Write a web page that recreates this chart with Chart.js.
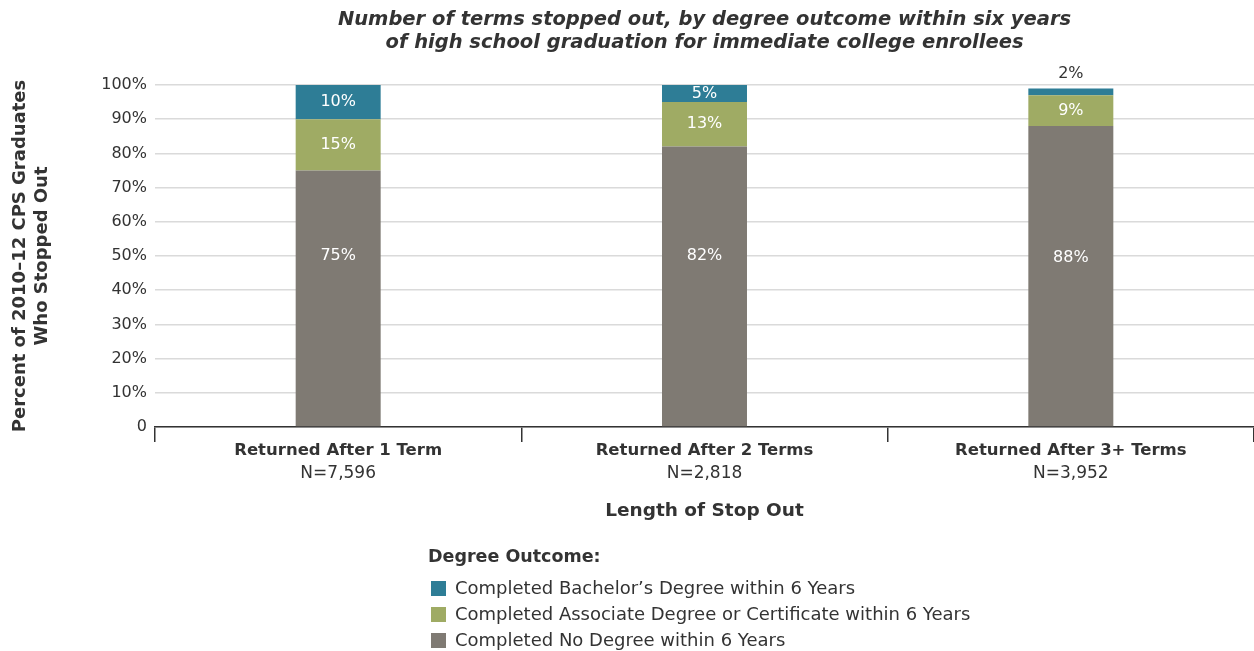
<!DOCTYPE html>
<html>
<head>
<meta charset="utf-8">
<script src="https://cdn.jsdelivr.net/npm/chart.js@4.4.0/dist/chart.umd.min.js"></script>
<style>
  html, body { margin: 0; padding: 0; background: #fff; }
  canvas { display: block; }
</style>
</head>
<body>
<canvas id="c" width="1254" height="651"></canvas>
<script>
// ---- data ----
const categories = ['Returned After 1 Term', 'Returned After 2 Terms', 'Returned After 3+ Terms'];
const sampleSizes = ['N=7,596', 'N=2,818', 'N=3,952'];
const noDegree = [75, 82, 88];
const associateDegree = [15, 13, 9];
const bachelorDegree = [10, 5, 2];
const yTickValues = [0, 10, 20, 30, 40, 50, 60, 70, 80, 90, 100];
const seriesNames = [
  'Completed No Degree within 6 Years',
  'Completed Associate Degree or Certificate within 6 Years',
  'Completed Bachelor\u2019s Degree within 6 Years'
];
const titleLines = [
  'Number of terms stopped out, by degree outcome within six years',
  'of high school graduation for immediate college enrollees'
];
const yTitleLines = ['Percent of 2010\u201312 CPS Graduates', 'Who Stopped Out'];
const xTitle = 'Length of Stop Out';
const legendTitle = 'Degree Outcome:';

// ---- styling ----
const FONT = "'DejaVu Sans', 'Noto Sans', sans-serif";
const TEXT = '#333333';
const COLORS = ['#7f7a73', '#9fab64', '#2e7d96'];

// Draws the titles, category labels, value labels and legend.
const annotations = {
  id: 'annotations',
  afterDraw(chart) {
    const ctx = chart.ctx;
    const area = chart.chartArea;
    const xs = chart.scales.x;
    const ys = chart.scales.y;
    const cx = (area.left + area.right) / 2;
    ctx.save();
    ctx.fillStyle = TEXT;
    ctx.textBaseline = 'middle';
    ctx.textAlign = 'center';

    // chart title
    ctx.font = 'italic bold 19.5px ' + FONT;
    ctx.fillText(titleLines[0], cx, 20);
    ctx.fillText(titleLines[1], cx, 43);

    // category labels with sample sizes
    categories.forEach((c, i) => {
      const x = xs.getPixelForValue(i);
      ctx.font = 'bold 16.5px ' + FONT;
      ctx.fillText(c, x, 451);
      ctx.font = '17px ' + FONT;
      ctx.fillText(sampleSizes[i], x, 474);
    });

    // x axis title
    ctx.font = 'bold 18.5px ' + FONT;
    ctx.fillText(xTitle, cx, 511);

    // y axis title
    const cy = (area.top + area.bottom) / 2;
    [20, 42].forEach((x, i) => {
      ctx.save();
      ctx.translate(x, cy);
      ctx.rotate(-Math.PI / 2);
      ctx.font = 'bold 18px ' + FONT;
      ctx.fillText(yTitleLines[i], 0, 0);
      ctx.restore();
    });

    // value labels on the bar segments; the base segment is labelled
    // at the middle of the whole stack
    const totals = categories.map((_, i) =>
      chart.data.datasets.reduce((s, ds) => s + ds.data[i], 0));
    chart.data.datasets.forEach((ds, di) => {
      const meta = chart.getDatasetMeta(di);
      meta.data.forEach((bar, i) => {
        const v = ds.data[i];
        const h = Math.abs(bar.base - bar.y);
        ctx.font = '16px ' + FONT;
        if (h < 12) {
          ctx.fillStyle = TEXT;
          ctx.fillText(v + '%', bar.x, Math.min(bar.y, bar.base) - 15);
        } else {
          ctx.fillStyle = '#ffffff';
          const y = di === 0 ? ys.getPixelForValue(totals[i] / 2) : (bar.y + bar.base) / 2;
          ctx.fillText(v + '%', bar.x, y);
        }
      });
    });

    // legend (top to bottom: last dataset first)
    ctx.textAlign = 'left';
    ctx.fillStyle = TEXT;
    ctx.font = 'bold 17.5px ' + FONT;
    ctx.fillText(legendTitle, 428, 557);
    const items = chart.data.datasets.slice().reverse();
    items.forEach((ds, k) => {
      const y = 589 + k * 26;
      ctx.fillStyle = ds.backgroundColor;
      ctx.fillRect(431, y - 8, 15, 15);
      ctx.fillStyle = TEXT;
      ctx.font = '18px ' + FONT;
      ctx.fillText(ds.label, 455, y);
    });

    ctx.restore();
  }
};

new Chart(document.getElementById('c'), {
  type: 'bar',
  data: {
    labels: categories,
    datasets: [
      { label: seriesNames[0], data: noDegree, backgroundColor: COLORS[0] },
      { label: seriesNames[1], data: associateDegree, backgroundColor: COLORS[1] },
      { label: seriesNames[2], data: bachelorDegree, backgroundColor: COLORS[2] }
    ]
  },
  options: {
    responsive: false,
    animation: false,
    layout: { padding: { top: 85, right: 0, left: 0, bottom: 0 } },
    datasets: { bar: { barPercentage: 0.232, categoryPercentage: 1.0 } },
    plugins: {
      legend: { display: false },
      tooltip: { enabled: false },
      title: { display: false }
    },
    scales: {
      x: {
        stacked: true,
        afterFit(scale) { scale.height = 224; },
        border: { display: true, color: '#333333', width: 1.5 },
        grid: {
          offset: true,
          drawOnChartArea: false,
          drawTicks: true,
          tickLength: 15,
          color: '#333333',
          lineWidth: 1.5
        },
        ticks: { display: false }
      },
      y: {
        stacked: true,
        min: 0,
        max: 100,
        afterFit(scale) { scale.width = 155; },
        afterBuildTicks(scale) { scale.ticks = yTickValues.map(v => ({ value: v })); },
        border: { display: false },
        grid: { color: '#dadada', lineWidth: 1.5, drawTicks: false },
        ticks: {
          padding: 8,
          color: TEXT,
          font: { family: FONT, size: 16 },
          callback: v => (v === 0 ? '0' : v + '%')
        }
      }
    }
  },
  plugins: [annotations]
});
</script>
</body>
</html>
